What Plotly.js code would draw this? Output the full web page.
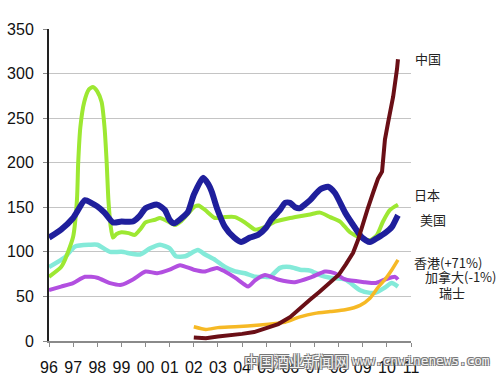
<!DOCTYPE html>
<html>
<head>
<meta charset="utf-8">
<script src="https://cdn.plot.ly/plotly-3.0.1.min.js"></script>
<style>html,body{margin:0;padding:0;background:#fff;}#chart{width:500px;height:381px;}</style>
</head>
<body>
<div id="chart"></div>
<script>
// Tick labels
const tickYears = [1996,1997,1998,1999,2000,2001,2002,2003,2004,2005,2006,2007,2008,2009,2010,2011];
const tickLabels = ['96','97','98','99','00','01','02','03','04','05','06','07','08','09','10','11'];

// 美国 (navy)
const usX = [1996.0,1996.5,1997.0,1997.49,1997.75,1998.0,1998.3,1998.65,1999.0,1999.48,1999.75,2000.0,2000.48,2000.8,2001.0,2001.18,2001.5,2001.76,2002.0,2002.38,2002.6,2002.75,2002.96,2003.29,2003.67,2003.96,2004.33,2004.66,2004.99,2005.2,2005.57,2005.78,2005.99,2006.2,2006.4,2006.6,2006.82,2007.23,2007.56,2007.85,2008.27,2008.68,2008.97,2009.30,2009.63,2009.92,2010.21,2010.42,2010.46];
const usY = [116,125,138,158,155,151,144,133,134,134,140,149,153,147,136,132,138,145,164,183,176,167,149,128,116,111,116,119,127,136,147,155,155,150,149,153,158,170,173,166,144,127,116,111,116,121,128,139,141];

// 日本 (green)
const jpX = [1996.0,1996.5,1996.66,1997.0,1997.16,1997.21,1997.3,1997.46,1997.65,1997.82,1998.0,1998.18,1998.3,1998.39,1998.46,1998.55,1998.65,1998.8,1999.0,1999.3,1999.56,1999.8,2000.0,2000.39,2000.6,2001.0,2001.22,2001.5,2002.05,2002.2,2002.47,2002.88,2003.29,2003.71,2004.12,2004.54,2004.95,2005.37,2005.99,2006.82,2007.23,2007.65,2008.06,2008.47,2008.89,2009.30,2009.59,2009.84,2010.13,2010.46];
const jpY = [72,83,91,117,159,200,240,268,282,285,280,268,240,200,159,130,116,120,122,121,119,126,133,136,138,133,130,135,151,152,147,138,139,139,133,125,128,134,138,142,144,139,134,122,116,113,119,134,147,153];

// 瑞士 (cyan)
const chX = [1996.0,1996.66,1997.08,1997.7,1998.0,1998.53,1999.0,1999.77,2000.19,2000.6,2001.0,2001.26,2001.64,2002.17,2002.47,2002.88,2003.29,2003.71,2004.12,2004.54,2004.95,2005.16,2005.57,2005.99,2006.4,2006.82,2007.23,2007.65,2008.27,2008.89,2009.30,2009.51,2009.92,2010.2,2010.46];
const chY = [83,94,106,108,108,100,100,97,104,108,104,95,95,102,97,91,83,78,76,72,72,72,82,83,80,79,74,71,69,57,54,54,60,65,61];

// 加拿大 (purple)
const caX = [1996.0,1996.5,1997.0,1997.49,1998.0,1998.53,1999.0,1999.48,2000.0,2000.48,2001.0,2001.43,2002.0,2002.47,2002.96,2003.29,2003.71,2004.12,2004.25,2004.54,2004.95,2005.49,2006.19,2006.82,2007.44,2007.85,2008.27,2009.10,2009.51,2009.92,2010.34,2010.46];
const caY = [57,61,65,72,71,65,63,69,78,76,80,85,80,78,82,78,71,63,61,68,74,69,66,71,78,76,69,66,65,69,72,69];

// 香港 (orange)
const hkX = [2002.0,2002.5,2003.0,2003.71,2004.74,2005.49,2005.78,2006.4,2007.02,2007.65,2008.27,2008.89,2009.30,2009.63,2009.92,2010.21,2010.46];
const hkY = [16,13,15,16,18,20,21,27,31,33,35,40,48,60,69,80,91];

// 中国 (maroon)
const cnX = [2002.0,2002.5,2003.0,2003.5,2004.0,2004.5,2005.0,2005.5,2006.0,2006.4,2006.8,2007.2,2007.6,2008.0,2008.3,2008.6,2008.8,2009.05,2009.2,2009.45,2009.63,2009.8,2009.92,2010.05,2010.26,2010.42,2010.46];
const cnY = [4,3,5,6,8,10,14,19,27,37,46,55,65,74,86,99,113,136,148,168,182,190,226,245,274,305,316];

function tr(x, y, color, width, name, shape) {
  return {x: x, y: y, type: 'scatter', mode: 'lines', name: name,
          line: {color: color, width: width, shape: shape || 'spline', smoothing: 0.6}, hoverinfo: 'skip'};
}

const data = [
  tr(chX, chY, '#84ead9', 4.5, '瑞士'),
  tr(caX, caY, '#b24fe0', 4, '加拿大'),
  tr(jpX, jpY, '#9de832', 4, '日本'),
  tr(usX, usY, '#1f1f9c', 6, '美国'),
  tr(hkX, hkY, '#f6b925', 3.5, '香港'),
  tr(cnX, cnY, '#6a0f16', 4, '中国', 'linear')
];

const lblFont = {family: 'Noto Sans CJK SC, sans-serif', size: 13, color: '#222'};
function lbl(text, x, y) {
  return {text: text, x: x, y: y, xref: 'paper', yref: 'paper', xanchor: 'left', yanchor: 'middle',
          showarrow: false, font: lblFont};
}
const wmShadow = '1px 1px 0 #777, -1px -1px 0 #777, 1px -1px 0 #777, -1px 1px 0 #777';

const layout = {
  width: 500, height: 381,
  margin: {l: 49, r: 89, t: 29, b: 40, pad: 0},
  paper_bgcolor: '#fff', plot_bgcolor: '#fff',
  showlegend: false,
  xaxis: {
    range: [1996, 2011], tickvals: tickYears, ticktext: tickLabels,
    showgrid: false, zeroline: false, showline: true, linecolor: '#8a8a8a', linewidth: 1.5,
    ticks: 'outside', ticklen: 4, tickcolor: '#8a8a8a', ticklabelstandoff: 7,
    tickfont: {family: 'Liberation Sans, Arial, sans-serif', size: 16, color: '#111'}
  },
  yaxis: {
    range: [0, 350], dtick: 50, tick0: 0,
    showgrid: true, gridcolor: '#c4c4c4', gridwidth: 1, zeroline: false,
    showline: true, linecolor: '#222', linewidth: 2,
    ticks: 'outside', ticklen: 4, tickcolor: '#8a8a8a', ticklabelstandoff: 6,
    tickfont: {family: 'Liberation Sans, Arial, sans-serif', size: 16, color: '#111'}
  },
  annotations: [
    lbl('中国', 1.0055, 0.907),
    lbl('日本', 1.003, 0.471),
    lbl('美国', 1.019, 0.388),
    lbl('香港(+71%)', 1.003, 0.253),
    lbl('加拿大(-1%)', 1.033, 0.208),
    lbl('瑞士', 1.072, 0.157),
    {text: '中国酒业新闻网', x: 0.533, y: -0.064, xref: 'paper', yref: 'paper', xanchor: 'left', yanchor: 'middle',
     showarrow: false, font: {family: 'Noto Sans CJK SC, sans-serif', size: 15, color: '#f2f2f2', shadow: wmShadow}},
    {text: 'www.cnwinenews.com', x: 0.831, y: -0.064, xref: 'paper', yref: 'paper', xanchor: 'left', yanchor: 'middle',
     showarrow: false, font: {family: 'DejaVu Sans Mono, monospace', size: 12.7, color: '#f2f2f2', shadow: wmShadow}}
  ]
};

Plotly.newPlot('chart', data, layout, {staticPlot: true, displayModeBar: false});
</script>
</body>
</html>
